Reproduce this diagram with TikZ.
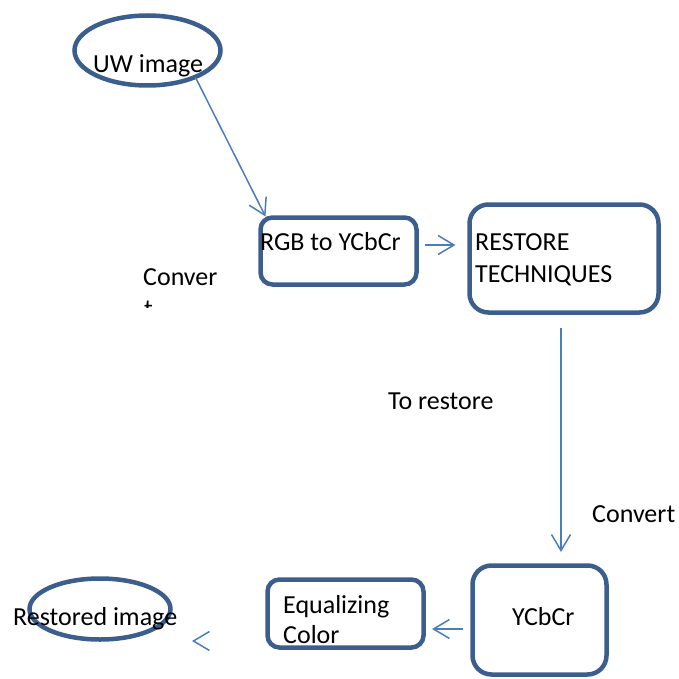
\documentclass[tikz,border=0pt]{standalone}
\usepackage{fontspec}
\setmainfont{Carlito}
\usetikzlibrary{shapes.geometric,arrows.meta}

\definecolor{boxblue}{HTML}{3B5E8C}
\definecolor{flowblue}{HTML}{4A7EBB}

\tikzset{
  stage/.style={draw=boxblue,line width=4.5pt,rounded corners=#1,
    inner sep=0pt,outer sep=0pt},
  oval/.style={ellipse,draw=boxblue,line width=4.5pt,inner sep=0pt,outer sep=0pt},
  txt/.style={anchor=base west,inner sep=0pt,font=\fontsize{26}{32}\selectfont},
  flow/.style={draw=flowblue,line width=1.5pt,
    -{Straight Barb[length=16pt,width=19pt]}}
}

\begin{document}
\begin{tikzpicture}[x=1pt,y=-1pt]
   \useasboundingbox (0,0) rectangle (678,679);

   % shapes
   \node[oval,minimum width=146pt,minimum height=70pt] (uw) at (147.5,50.5) {};
   \node[stage=12pt,minimum width=156pt,minimum height=67pt] (rgb) at (338.5,251) {};
   \node[stage=19pt,minimum width=189pt,minimum height=108pt] (restore) at (564,258.5) {};
   \node[stage=19pt,minimum width=134pt,minimum height=109pt] (ycc) at (539.5,620) {};
   \node[stage=12pt,minimum width=156pt,minimum height=68pt] (equal) at (345.5,613.5) {};
   \node[oval,minimum width=141pt,minimum height=61pt] (restored) at (100,609) {};

   % texts
   \node[txt] (uwtxt) at (93,73) {UW image};
   \node[txt] (rgbtxt) at (260,250) {RGB to YCbCr};
   \node[txt] (resttxt) at (475,250) {RESTORE};
   \node[txt] (techtxt) at (475,282) {TECHNIQUES};
   \node[txt] (convtxt) at (143,285) {Conver};
   \begin{scope}
    \clip (130,290) rectangle (230,307);
    \node[txt] (convt) at (144,317) {t};
   \end{scope}
   \node[txt] (torest) at (388,409) {To restore};
   \node[txt] (convert) at (592,522) {Convert};
   \node[txt] (ycctxt) at (512,625) {YCbCr};
   \node[txt] (eqtxt) at (283,613) {Equalizing};
   \node[txt] (coltxt) at (283,643) {Color};
   \node[txt] (resttxt2) at (13,625) {Restored image};

   % arrows
   \draw[flow] (uw.-29) -- ([shift={(5,-1)}]rgb.north west);
   \draw[flow] ([shift={(8,-6)}]rgb.east) -- ([shift={(-14,-13.5)}]restore.west);
   \draw[flow] ([shift={(-3,15)}]restore.south) -- ([shift={(21.5,-13.5)}]ycc.north);
   \draw[flow] ([shift={(-10,9)}]ycc.west) -- ([shift={(8.5,15.5)}]equal.east);
   \coordinate (lonetip) at ([shift={(21.5,32)}]restored.east);
   \draw[flow] ([shift={(1,0)}]lonetip) -- (lonetip);
\end{tikzpicture}
\end{document}
